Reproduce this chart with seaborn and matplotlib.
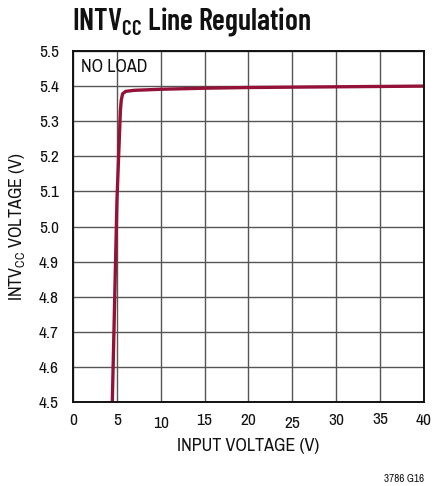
import matplotlib
matplotlib.use("Agg")
import matplotlib.pyplot as plt
import matplotlib.transforms as mtransforms
import seaborn as sns
import pandas as pd

# data
input_voltage = [4.48, 5.01, 5.2, 5.4, 5.5, 5.65, 6.0, 7.0, 10, 15, 20, 25, 30, 35, 40]
intvcc_voltage = [4.5, 5.075, 5.2, 5.33, 5.36, 5.378, 5.385, 5.388, 5.391, 5.394,
                  5.396, 5.397, 5.398, 5.399, 5.400]
x_ticks = [0, 5, 10, 15, 20, 25, 30, 35, 40]
y_ticks = [4.5, 4.6, 4.7, 4.8, 4.9, 5.0, 5.1, 5.2, 5.3, 5.4, 5.5]

sns.set_style("white")
FAM = ['Archivo Narrow', 'Roboto Condensed', 'Liberation Sans Narrow', 'Liberation Sans', 'DejaVu Sans']
TITLE_FAM = ['Barlow Condensed', 'Asap Condensed', 'Encode Sans Condensed', 'Liberation Sans']
plt.rcParams['font.family'] = FAM
plt.rcParams['mathtext.fontset'] = 'custom'
plt.rcParams['mathtext.rm'] = 'Archivo Narrow'
plt.rcParams['mathtext.bf'] = 'Barlow Condensed:semibold'

df = pd.DataFrame({"vin": input_voltage, "vcc": intvcc_voltage})

fig = plt.figure(figsize=(4.39, 4.86), dpi=100)
ax = fig.add_axes([73/439, 1-402/486, 351/439, 351/486])

sns.lineplot(data=df, x="vin", y="vcc", ax=ax, color="#941238", linewidth=2.4,
             sort=False, estimator=None)

ax.set_xlim(0, 40)
ax.set_ylim(4.5, 5.5)
ax.set_xticks(x_ticks)
ax.set_yticks(y_ticks)
ax.set_xticklabels([str(v) for v in x_ticks])
ax.set_yticklabels([f"{v:.1f}" for v in y_ticks])
ax.grid(True, color="#555555", linewidth=1.0)
ax.set_axisbelow(True)
ax.tick_params(axis='both', length=0, labelsize=12.5, colors='#111111')
ax.tick_params(axis='x', pad=8)
ax.tick_params(axis='y', pad=10)
for s in ax.spines.values():
    s.set_color('#111111')
    s.set_linewidth(1.4)

# staggered x tick labels as in reference
offsets = {10: -2.5, 25: -2.5, 35: 1.5}
for lab, v in zip(ax.get_xticklabels(), x_ticks):
    dy = offsets.get(v, 0)
    if dy:
        lab.set_transform(lab.get_transform() +
                          mtransforms.ScaledTranslation(0, dy/100, fig.dpi_scale_trans))

ax.set_xlabel("INPUT VOLTAGE (V)", fontsize=13, labelpad=5, color='#111111')
ax.set_ylabel(r"INTV$_{\mathregular{CC}}$ VOLTAGE (V)", fontsize=13, labelpad=9, color='#111111')

fig.text(81/439, 1-67/486, "NO LOAD", fontsize=13, va='center', ha='left', color='#111111')

fig.text(72/439, 1-29/486, r"INTV$_{\mathbf{CC}}$ Line Regulation", fontsize=21.5,
         family=TITLE_FAM, fontweight='semibold', ha='left', va='baseline', color='#111111')
fig.text(424/439, 1-479/486, "3786 G16", fontsize=8, ha='right', va='center',
         color='#111111')

fig.savefig("out.png", dpi=100)
